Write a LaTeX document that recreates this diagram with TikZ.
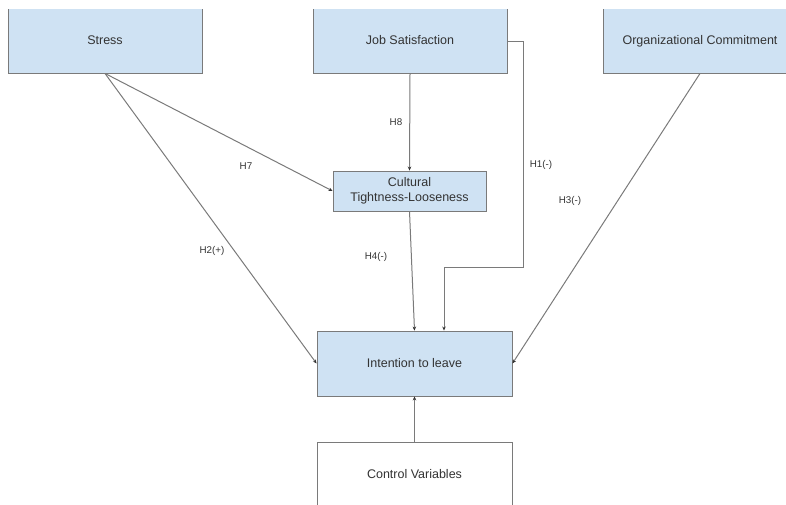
\documentclass[tikz,border=0pt]{standalone}
\usepackage{fontspec}
\setmainfont{Liberation Sans}
\usepackage{tikz}
\usetikzlibrary{positioning}
\usetikzlibrary{arrows.meta}
\definecolor{boxblue}{HTML}{CFE2F3}
\definecolor{boxline}{HTML}{7A7A7A}
\definecolor{linegray}{HTML}{7A7A7A}
\definecolor{textgray}{HTML}{333333}
\tikzstyle{bigbox}=[rectangle,fill=boxblue,draw=boxline,line width=0.9pt,minimum width=194pt,minimum height=63pt,inner sep=0pt,font=\fontsize{12.5}{14}\selectfont,text=textgray]
\tikzstyle{topbox}=[bigbox,minimum height=83pt,text height=29pt,text depth=3pt]
\tikzstyle{smallbox}=[bigbox,minimum width=153pt,minimum height=40pt,align=center,font=\fontsize{12.5}{14.5}\selectfont]
\tikzstyle{edge} = [draw,line width=1pt,linegray,-{Stealth[length=4pt,width=3.5pt,black!80]}]
\tikzstyle{weight} = [font=\fontsize{9.8}{11}\selectfont,text=textgray,inner sep=0pt]

\begin{document}
\begin{tikzpicture}[x=1pt,y=-1pt]
  \useasboundingbox (0,0) rectangle (786,505);
  \begin{scope}
    \clip (0,10) rectangle (786,505);

    % First we draw the boxes (their tops run off the picture)
    \foreach \pos/\name/\label in {{(105,31.5)/ST/Stress}, {(410,31.5)/JS/Job Satisfaction}, {(700,31.5)/OC/Organizational Commitment}}
        \node[topbox] (\name) at \pos {\label};

    \node[smallbox] (CT) at (409.5,191) {Cultural\\Tightness-Looseness};
    \node[bigbox, minimum width=195pt, minimum height=65pt] (IL) at (414.5,363.5) {Intention to leave};
    \node[bigbox, minimum width=195pt, minimum height=65pt, fill=white] (CV) at (414.5,474.5) {Control Variables};
  \end{scope}

    % Connect boxes with edges
  \foreach \source/ \dest in {ST.south/CT.west, ST.south/IL.west, JS.south/CT.north, CT.south/IL.north, OC.south/IL.east, CV.north/IL.south}
          \path[edge] (\source) -- (\dest);

  \coordinate (bend) at (523,267);
  \path[edge] ([yshift=-10pt]JS.east) -| (bend) -| ([xshift=29.5pt]IL.north);

    % Hypothesis labels
  \foreach \pos/\name/\label in {{(246,166)/h7/H7}, {(212,251)/h2/H2(+)}, {(396,122)/h8/H8}, {(541,165)/h1/H1(-)}, {(376,257)/h4/H4(-)}, {(570,201)/h3/H3(-)}}
        \node[weight] (\name) at \pos {\label};

\end{tikzpicture}
\end{document}
